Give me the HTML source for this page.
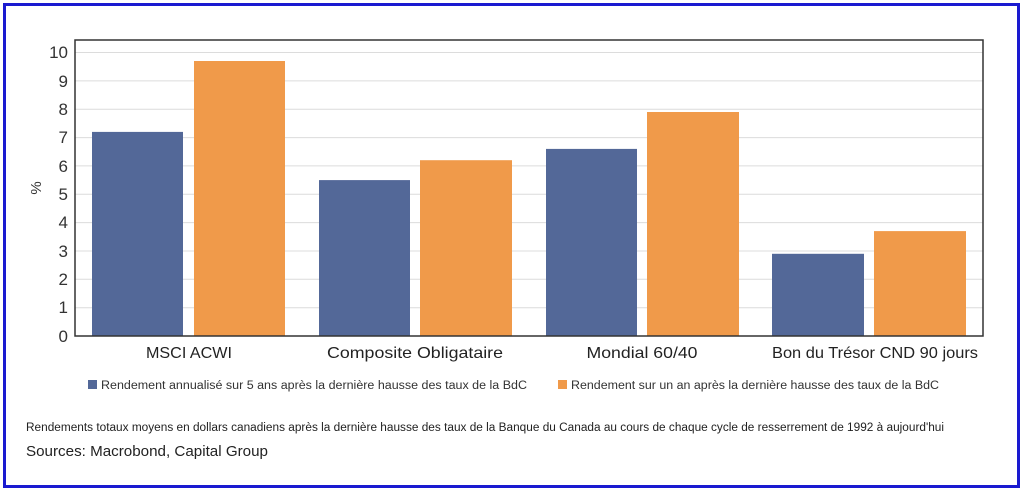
<!DOCTYPE html>
<html><head><meta charset="utf-8"><style>
html,body{margin:0;padding:0;background:#fff;}
svg{display:block;font-family:"Liberation Sans","DejaVu Sans",sans-serif;}
</style></head><body>
<svg width="1022" height="491" viewBox="0 0 1022 491" xmlns="http://www.w3.org/2000/svg">
<rect x="0" y="0" width="1022" height="491" fill="#fff"/>
<rect x="4.5" y="4.5" width="1014" height="482" fill="none" stroke="#1a1ad0" stroke-width="3"/>
<g stroke="#dcdcdc" stroke-width="1">
<line x1="75" x2="983" y1="52.5" y2="52.5"/>
<line x1="75" x2="983" y1="80.9" y2="80.9"/>
<line x1="75" x2="983" y1="109.2" y2="109.2"/>
<line x1="75" x2="983" y1="137.6" y2="137.6"/>
<line x1="75" x2="983" y1="165.9" y2="165.9"/>
<line x1="75" x2="983" y1="194.3" y2="194.3"/>
<line x1="75" x2="983" y1="222.6" y2="222.6"/>
<line x1="75" x2="983" y1="251" y2="251"/>
<line x1="75" x2="983" y1="279.3" y2="279.3"/>
<line x1="75" x2="983" y1="307.7" y2="307.7"/>
</g>
<g fill="#536898">
<rect x="92" y="131.9" width="91" height="204.1"/>
<rect x="319" y="180.1" width="91" height="155.9"/>
<rect x="546" y="148.9" width="91" height="187.1"/>
<rect x="772" y="253.8" width="92" height="82.2"/>
</g>
<g fill="#f09a4a">
<rect x="194" y="61" width="91" height="275"/>
<rect x="420" y="160.2" width="92" height="175.8"/>
<rect x="647" y="112" width="92" height="224"/>
<rect x="874" y="231.1" width="92" height="104.9"/>
</g>
<rect x="75" y="40" width="908" height="296" fill="none" stroke="#333" stroke-width="1.5"/>
<g font-size="17" fill="#333" text-anchor="end">
<text x="68" y="58">10</text><text x="68" y="87">9</text><text x="68" y="115">8</text>
<text x="68" y="143">7</text><text x="68" y="172">6</text><text x="68" y="200">5</text>
<text x="68" y="228">4</text><text x="68" y="257">3</text><text x="68" y="285">2</text>
<text x="68" y="313">1</text><text x="68" y="342">0</text>
</g>
<text x="0" y="0" font-size="15" fill="#333" transform="translate(41,188) rotate(-90)" text-anchor="middle">%</text>
<g font-size="16" fill="#222" text-anchor="middle">
<text x="189" y="358" textLength="86" lengthAdjust="spacingAndGlyphs">MSCI ACWI</text>
<text x="415" y="358" textLength="176" lengthAdjust="spacingAndGlyphs">Composite Obligataire</text>
<text x="642" y="358" textLength="111" lengthAdjust="spacingAndGlyphs">Mondial 60/40</text>
<text x="875" y="358" textLength="206" lengthAdjust="spacingAndGlyphs">Bon du Trésor CND 90 jours</text>
</g>
<rect x="88" y="380" width="9" height="9" fill="#536898"/>
<text x="101" y="389" font-size="11.5" fill="#333" textLength="426" lengthAdjust="spacingAndGlyphs">Rendement annualisé sur 5 ans après la dernière hausse des taux de la BdC</text>
<rect x="558" y="380" width="9" height="9" fill="#f09a4a"/>
<text x="571" y="389" font-size="11.5" fill="#333" textLength="368" lengthAdjust="spacingAndGlyphs">Rendement sur un an après la dernière hausse des taux de la BdC</text>
<text x="26" y="431" font-size="11.5" fill="#222" textLength="918" lengthAdjust="spacingAndGlyphs">Rendements totaux moyens en dollars canadiens après la dernière hausse des taux de la Banque du Canada au cours de chaque cycle de resserrement de 1992 à aujourd'hui</text>
<text x="26" y="456" font-size="15" fill="#222" textLength="242" lengthAdjust="spacingAndGlyphs">Sources: Macrobond, Capital Group</text>
</svg>
</body></html>
